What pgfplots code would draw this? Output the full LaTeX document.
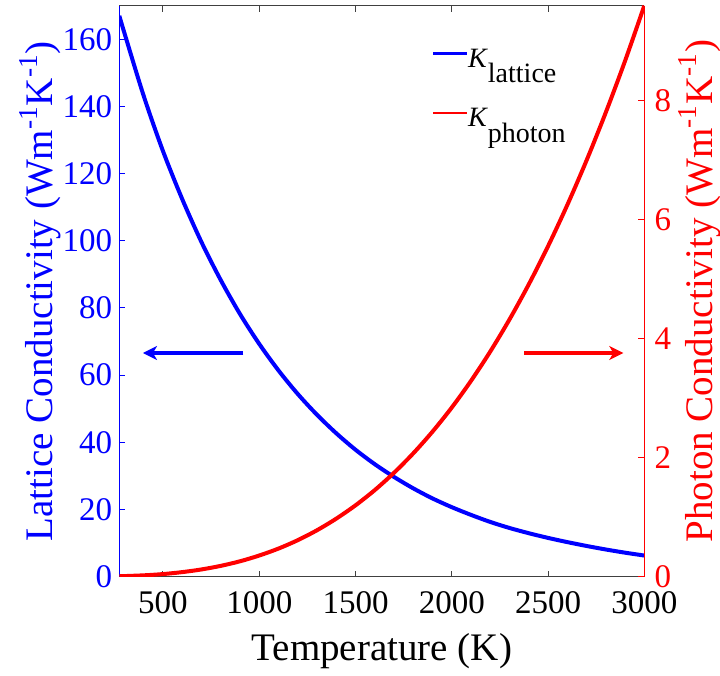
\documentclass[border=0pt]{standalone}
\usepackage{fontspec}
\setmainfont{Liberation Serif}
\usepackage{pgfplots}
\pgfplotsset{compat=1.18}
\usetikzlibrary{arrows.meta}

\pgfplotstableread{
T K
273 167
300 161.8
400 143.1
500 126.7
600 112.4
700 99.6
800 88.3
900 78.2
1000 69.3
1100 61.4
1200 54.4
1300 48.2
1400 42.7
1500 37.8
1600 33.5
1700 29.7
1800 26.3
1900 23.3
2000 20.7
2100 18.4
2200 16.3
2300 14.5
2400 12.95
2500 11.55
2600 10.3
2700 9.15
2800 8.1
2900 7.15
3000 6.3
}\lattice

\pgfplotstableread{
T P
273 0.007
400 0.023
500 0.044
600 0.077
700 0.122
800 0.182
900 0.259
1000 0.356
1100 0.473
1200 0.614
1300 0.781
1400 0.976
1500 1.200
1600 1.456
1700 1.747
1800 2.074
1900 2.439
2000 2.844
2100 3.293
2200 3.786
2300 4.326
2400 4.915
2500 5.556
2600 6.249
2700 6.998
2800 7.805
2900 8.671
3000 9.600
}\photon

\begin{document}
\begin{tikzpicture}
\begin{axis}[
  at={(0,0)}, anchor=south west,
  scale only axis, width=262.5pt, height=285.5pt,
  xmin=273, xmax=3000, ymin=0, ymax=170,
  axis x line=box, axis y line*=left,
  xtick={500,1000,...,3000}, ytick={0,20,...,160},
  tick align=inside, major tick length=3pt,
  x axis line style={black!75, line width=0.6pt},
  y axis line style={blue, line width=0.6pt},
  xtick style={black!75, line width=0.5pt},
  ytick style={blue, line width=0.5pt},
  /pgf/number format/assume math mode=true,
  /pgf/number format/1000 sep={},
  xticklabel style={font=\fontsize{16.5}{18}\selectfont, text=black, yshift=-6pt, inner sep=1pt},
  yticklabel style={font=\fontsize{16.5}{18}\selectfont, text=blue},
  xlabel={Temperature (K)},
  xlabel style={at={(axis description cs:0.5,-0.147)}, anchor=base, font=\fontsize{19.5}{22}\selectfont, text=black},
  ylabel={Lattice Conductivity (Wm\textsuperscript{-1}K\textsuperscript{-1})},
  ylabel style={at={(axis description cs:-0.1265,0.5)}, anchor=base, font=\fontsize{19.5}{22}\selectfont, text=blue},
  legend style={at={(axis description cs:0.595,0.925)}, anchor=north west, draw=none, fill=none,
    inner sep=0pt, font=\fontsize{14}{15}\selectfont, row sep=19pt, column sep=0pt,
    nodes={inner sep=0pt}},
  legend cell align=left,
  legend image code/.code={\draw[#1, line width=1.3pt] (0pt,3pt) -- (16.7pt,3pt);},
]
\addplot[blue, line width=2pt, smooth] table[x=T, y=K] {\lattice};
\addlegendentry{\textit{K}\raisebox{-7.8pt}{lattice}}
\addlegendimage{red, line width=2pt}
\addlegendentry{\textit{K}\raisebox{-7.8pt}{photon}}
\draw[blue, line width=1.8pt, -{Stealth[length=7pt, width=7pt, inset=2pt]}] (axis cs:917,66.6) -- (axis cs:396,66.6);
\draw[red, line width=1.8pt, -{Stealth[length=7pt, width=7pt, inset=2pt]}] (axis cs:2376,66.6) -- (axis cs:2891,66.6);
\end{axis}
\begin{axis}[
  at={(0,0)}, anchor=south west,
  scale only axis, width=262.5pt, height=285.5pt,
  xmin=273, xmax=3000, ymin=0, ymax=9.6,
  axis x line=none, axis y line*=right,
  ytick={0,2,...,8},
  tick align=inside, major tick length=3pt,
  y axis line style={red, line width=0.6pt},
  ytick style={red, line width=0.5pt},
  /pgf/number format/assume math mode=true,
  yticklabel style={font=\fontsize{16.5}{18}\selectfont, text=red, inner sep=1pt, xshift=4pt},
  ylabel={Photon Conductivity (Wm\textsuperscript{-1}K\textsuperscript{-1})},
  ylabel style={at={(axis description cs:1.129,0.5)}, anchor=base, rotate=0, font=\fontsize{19.5}{22}\selectfont, text=red},
]
\addplot[red, line width=2pt, smooth] table[x=T, y=P] {\photon};
\end{axis}
\pgfresetboundingbox
\useasboundingbox (-59.65pt,-49.2pt) rectangle (300.35pt,288.35pt);
\end{tikzpicture}
\end{document}
